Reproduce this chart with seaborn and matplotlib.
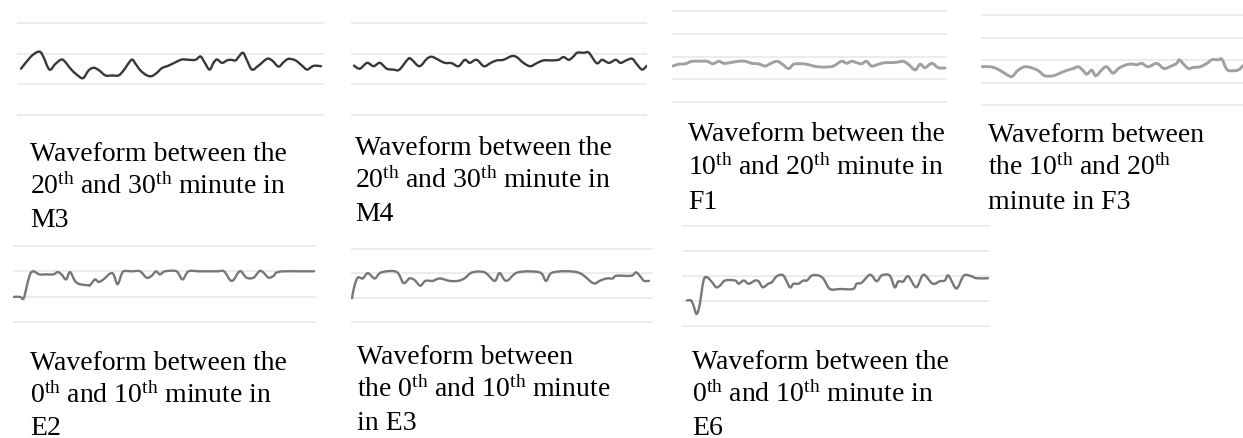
import matplotlib
matplotlib.use("Agg")
import matplotlib.pyplot as plt
from matplotlib.path import Path
from matplotlib.patches import PathPatch
import seaborn as sns

sns.set_theme(style="white")
plt.rcParams["font.family"] = ["Liberation Serif", "DejaVu Serif"]
plt.rcParams["mathtext.fontset"] = "custom"
plt.rcParams["mathtext.rm"] = "Liberation Serif"
plt.rcParams["mathtext.it"] = "Liberation Serif:italic"
plt.rcParams["mathtext.bf"] = "Liberation Serif:bold"

# ---------------- data (time in seconds within the 10-minute window, amplitude in grid units)
m3_t = [0,19,32,39,45,57,69,81,89,99,112,124,135,145,155,169,182,195,205,221,229,239,252,262,272,282,295,309,322,335,
        349,359,367,377,385,392,402,412,419,429,435,444,452,462,475,492,502,515,525,535,549,562,572,582,589,600]
m3_y = [1.51,1.89,2.05,2.05,1.89,1.48,1.67,1.81,1.72,1.51,1.31,1.20,1.45,1.54,1.47,1.29,1.29,1.29,1.45,1.80,
        1.67,1.45,1.29,1.27,1.38,1.53,1.61,1.72,1.81,1.80,1.80,1.91,1.72,1.48,1.70,1.81,1.70,1.78,1.80,1.78,
        1.89,2.03,1.78,1.48,1.61,1.83,1.78,1.58,1.72,1.83,1.78,1.61,1.48,1.58,1.61,1.59]

m4_t = [0,12,27,40,53,67,81,93,111,118,134,149,159,173,186,200,214,227,237,251,266,279,292,306,323,333,347,361,374,388,
        405,419,429,440,450,457,471,481,497,508,522,536,546,560,570,580,590,600]
m4_y = [1.61,1.51,1.70,1.59,1.70,1.51,1.48,1.48,1.83,1.81,1.59,1.83,1.90,1.80,1.70,1.69,1.59,1.80,1.70,1.80,
        1.59,1.69,1.78,1.80,1.92,1.89,1.70,1.59,1.69,1.78,1.78,1.80,1.89,1.80,1.92,2.03,2.03,2.03,1.69,1.80,
        1.70,1.80,1.70,1.80,1.83,1.64,1.48,1.61]

f1_t = [0,12,27,42,60,75,88,101,112,126,145,159,174,188,203,214,229,240,255,266,280,295,310,324,339,354,372,383,394,405,
        416,427,438,453,467,482,497,508,519,534,545,556,571,585,600]
f1_y = [1.58,1.66,1.68,1.79,1.79,1.79,1.68,1.79,1.70,1.73,1.79,1.79,1.70,1.68,1.58,1.68,1.79,1.68,1.47,1.66,
        1.68,1.66,1.58,1.54,1.54,1.58,1.79,1.70,1.79,1.73,1.68,1.79,1.58,1.66,1.73,1.73,1.76,1.79,1.66,1.41,
        1.66,1.51,1.70,1.51,1.49]

f3_t = [0,18,32,47,62,69,80,95,110,125,139,158,173,188,202,213,223,232,243,252,265,276,290,302,317,331,343,354,368,387,
        403,420,431,437,446,457,468,483,498,509,524,531,542,553,568,578,590]
f3_y = [1.70,1.70,1.62,1.45,1.27,1.30,1.55,1.70,1.65,1.52,1.30,1.30,1.42,1.54,1.62,1.70,1.55,1.37,1.55,1.30,
        1.56,1.70,1.42,1.62,1.77,1.82,1.79,1.85,1.70,1.85,1.62,1.74,1.85,2.01,1.82,1.62,1.67,1.70,1.85,2.01,
        2.01,2.04,1.59,1.52,1.56,1.74,1.82]

e2_t = [0,12,19,25,32,39,51,65,79,87,95,104,112,122,132,149,152,162,169,179,192,199,207,215,220,235,252,265,275,284,
        292,302,325,337,349,372,405,420,432,439,452,465,479,491,499,509,519,525,539,572,600]
e2_y = [0.99,0.99,0.92,1.36,1.88,2.00,1.88,1.88,1.88,1.97,1.88,1.68,1.97,1.62,1.49,1.45,1.45,1.68,1.58,1.68,
        1.91,1.88,1.49,1.88,2.01,2.00,2.00,1.75,1.82,2.00,1.88,2.00,2.00,1.68,2.00,2.00,2.00,2.00,1.66,1.66,
        2.01,1.75,1.75,2.01,1.95,1.75,1.82,1.95,2.00,2.00,2.00]

e3_t = [0,5,12,22,32,46,59,90,104,116,126,138,148,163,177,197,214,227,243,268,288,298,312,335,379,392,406,456,487,500,
        514,527,534,564,574,584,590,600]
e3_y = [0.98,1.49,1.83,1.79,2.01,1.79,2.04,2.06,1.60,1.79,1.73,1.49,1.69,1.69,1.79,1.69,1.69,1.79,2.04,2.04,
        1.69,2.01,1.69,2.04,2.04,1.69,2.04,2.04,1.60,1.69,1.79,1.79,1.90,1.90,2.04,1.83,1.69,1.69]

e6_t = [0,8,13,19,25,33,40,50,58,66,76,96,103,113,123,136,143,151,162,169,179,192,205,212,222,232,239,249,262,272,
        285,305,331,338,348,365,378,388,404,414,421,431,441,457,471,487,494,504,514,521,534,540,552,567,577,600]
e6_y = [1.02,1.02,0.82,0.48,0.82,1.82,1.95,1.75,1.55,1.62,1.82,1.82,1.69,1.82,1.69,1.82,1.78,1.55,1.69,1.75,
        1.99,2.02,1.55,1.69,1.69,1.82,1.82,2.02,2.02,1.89,1.48,1.48,1.48,1.69,1.73,2.05,1.79,2.02,2.02,1.55,
        1.78,1.78,1.99,1.55,2.05,1.73,1.69,1.79,1.82,2.02,1.55,1.55,2.02,1.99,1.91,1.91]

captions = {
    "M3": ["Waveform between the", r"20$^{\mathrm{th}}$ and 30$^{\mathrm{th}}$ minute in", "M3"],
    "M4": ["Waveform between the", r"20$^{\mathrm{th}}$ and 30$^{\mathrm{th}}$ minute in", "M4"],
    "F1": ["Waveform between the", r"10$^{\mathrm{th}}$ and 20$^{\mathrm{th}}$ minute in", "F1"],
    "F3": ["Waveform between", r"the 10$^{\mathrm{th}}$ and 20$^{\mathrm{th}}$", "minute in F3"],
    "E2": ["Waveform between the", r"0$^{\mathrm{th}}$ and 10$^{\mathrm{th}}$ minute in", "E2"],
    "E3": ["Waveform between", r"the 0$^{\mathrm{th}}$ and 10$^{\mathrm{th}}$ minute", "in E3"],
    "E6": ["Waveform between the", r"0$^{\mathrm{th}}$ and 10$^{\mathrm{th}}$ minute in", "E6"],
}


def smooth_path(ax, line):
    """Replace a polyline by a Catmull-Rom style smoothed curve (Excel 'smoothed line')."""
    pts = ax.transData.transform(line.get_xydata())
    verts = [tuple(pts[0])]
    codes = [Path.MOVETO]
    k = 1.0 / 6.0
    n = len(pts)
    for i in range(n - 1):
        p0 = pts[i - 1] if i > 0 else pts[i]
        p1 = pts[i]
        p2 = pts[i + 1]
        p3 = pts[i + 2] if i + 2 < n else pts[i + 1]
        c1 = p1 + (p2 - p0) * k
        c2 = p2 - (p3 - p1) * k
        verts += [tuple(c1), tuple(c2), tuple(p2)]
        codes += [Path.CURVE4, Path.CURVE4, Path.CURVE4]
    inv = ax.transData.inverted()
    verts = inv.transform(verts)
    patch = PathPatch(Path(verts, codes), facecolor="none", edgecolor=line.get_color(),
                      linewidth=line.get_linewidth(), capstyle="round", joinstyle="round")
    ax.add_patch(patch)
    line.set_visible(False)


# ---------------- layout (pixels)
W, H = 1243, 439
fig = plt.figure(figsize=(W / 100, H / 100), dpi=100)

# name, t, y, grid_x0, grid_x1, line_x0, line_x1, grid_top, grid_bottom, n_levels, color, lw, caption_x, caption_baselines
panels = [
    ("M3", m3_t, m3_y, 17, 324, 21, 321, 24, 116, 3, "#383838", 1.7, 30, [161, 194, 227]),
    ("M4", m4_t, m4_y, 351, 647, 354, 647, 24, 116, 3, "#383838", 1.7, 355, [155, 188, 221]),
    ("F1", f1_t, f1_y, 672, 947, 673, 945, 12, 103, 4, "#a0a0a0", 2.1, 688, [141, 175, 209]),
    ("F3", f3_t, f3_y, 981, 1256, 982, 1253, 16, 106, 4, "#a0a0a0", 2.1, 988, [142, 175, 209]),
    ("E2", e2_t, e2_y, 13, 316, 14, 314, 247, 323, 3, "#777777", 1.7, 30, [370, 403, 435]),
    ("E3", e3_t, e3_y, 351, 653, 352, 649, 250, 323, 3, "#777777", 1.7, 357, [364, 397, 430]),
    ("E6", e6_t, e6_y, 682, 990, 687, 988, 227, 327, 4, "#777777", 1.7, 692, [369, 402, 435]),
]

for (name, t, y, gx0, gx1, lx0, lx1, gtop, gbot, n, color, lw, cx, cys) in panels:
    unit = (gbot - gtop) / n
    pad = 0.15
    bottom_px = gbot + pad * unit
    top_px = gtop - pad * unit
    ax = fig.add_axes([gx0 / W, 1 - bottom_px / H, (gx1 - gx0) / W, (bottom_px - top_px) / H])
    sec_per_px = 600 / (lx1 - lx0)
    ax.set_xlim(-(lx0 - gx0) * sec_per_px, 600 + (gx1 - lx1) * sec_per_px)
    ax.set_ylim(-pad, n + pad)
    sns.lineplot(x=t, y=y, ax=ax, color=color, linewidth=lw, sort=False)
    smooth_path(ax, ax.lines[-1])
    ax.set_yticks(range(n + 1))
    ax.set_xticks([])
    ax.grid(axis="y", color="#e9e9e9", linewidth=1.2)
    ax.tick_params(left=False, bottom=False, labelleft=False, labelbottom=False)
    for s in ax.spines.values():
        s.set_visible(False)
    ax.set_xlabel("")
    ax.set_ylabel("")
    ax.patch.set_alpha(0)
    for line_txt, by in zip(captions[name], cys):
        fig.text(cx / W, 1 - by / H, line_txt, ha="left", va="baseline",
                 fontsize=20, color="#000000")

fig.savefig("out.png", dpi=100)
